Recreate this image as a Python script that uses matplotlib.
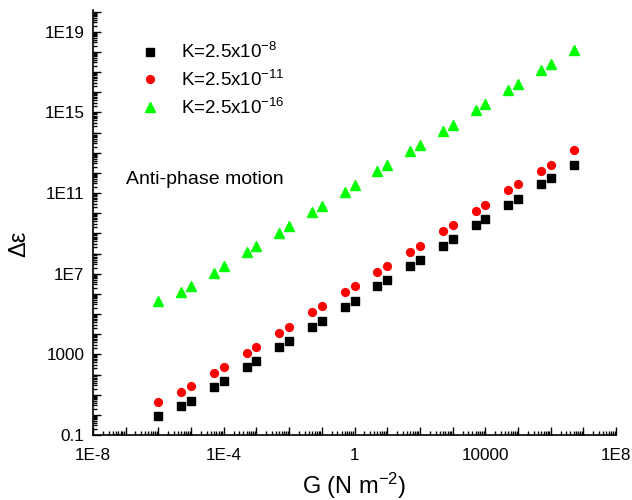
import numpy as np
import matplotlib
matplotlib.use("Agg")
import matplotlib.pyplot as plt
from matplotlib.ticker import FixedLocator, FuncFormatter, NullFormatter

plt.rcParams['font.family'] = ['Liberation Sans', 'DejaVu Sans']
plt.rcParams['mathtext.fontset'] = 'custom'
plt.rcParams['mathtext.rm'] = 'Liberation Sans'
plt.rcParams['mathtext.it'] = 'Liberation Sans:italic'

# G values (N m^-2)
G = [1e-6, 5e-6, 1e-5, 5e-5, 1e-4, 5e-4, 1e-3, 5e-3, 1e-2, 5e-2, 0.1, 0.5, 1,
     5, 10, 50, 100, 500, 1000, 5e3, 1e4, 5e4, 1e5, 5e5, 1e6, 5e6]

# delta epsilon
k8 = [0.9, 2.6, 5.0, 23, 46, 228, 450, 2300, 4750, 2.2e4, 4.7e4, 2.3e5, 4.5e5,
      2.4e6, 4.8e6, 2.4e7, 4.8e7, 2.4e8, 5.0e8, 2.6e9, 5.3e9, 2.6e10, 5.2e10,
      2.7e11, 5.5e11, 2.6e12]
k11 = [4.5, 13.5, 26, 118, 228, 1170, 2300, 1.15e4, 2.3e4, 1.2e5, 2.4e5, 1.23e6,
       2.4e6, 1.17e7, 2.4e7, 1.2e8, 2.4e8, 1.3e9, 2.7e9, 1.28e10, 2.6e10,
       1.35e11, 2.7e11, 1.3e12, 2.6e12, 1.4e13]
k16 = [4.4e5, 1.3e6, 2.4e6, 1.14e7, 2.3e7, 1.14e8, 2.3e8, 1.1e9, 2.3e9, 1.1e10,
       2.3e10, 1.15e11, 2.5e11, 1.2e12, 2.4e12, 1.2e13, 2.4e13, 1.2e14, 2.4e14,
       1.25e15, 2.6e15, 1.27e16, 2.5e16, 1.25e17, 2.5e17, 1.3e18]

labels = ['K=2.5x10$^{-8}$', 'K=2.5x10$^{-11}$', 'K=2.5x10$^{-16}$']

fig = plt.figure(figsize=(6.32, 5), dpi=100)
ax = fig.add_axes([0.147, 0.13, 0.828, 0.85])

ax.plot(G, k8, 's', color='black', ms=5.2, label=labels[0])
ax.plot(G, k11, 'o', color='red', ms=5.6, label=labels[1])
ax.plot(G, k16, '^', color='#00ff00', ms=7, label=labels[2])

ax.set_xscale('log')
ax.set_yscale('log')
ax.set_xlim(1e-8, 1e8)
ax.set_ylim(0.1, 1.2e20)


def fmt(v, pos):
    e = int(round(np.log10(v)))
    if e == 0:
        return '1'
    if e == -1:
        return '0.1'
    if e in (3, 4):
        return str(10 ** e)
    return '1E%d' % e


xmaj = [10.0 ** e for e in range(-8, 9)]
ymaj = [10.0 ** e for e in range(-1, 21)]
ax.xaxis.set_major_locator(FixedLocator(xmaj))
ax.yaxis.set_major_locator(FixedLocator(ymaj))
ax.xaxis.set_major_formatter(FuncFormatter(
    lambda v, p: fmt(v, p) if round(np.log10(v)) % 4 == 0 else ''))
ax.yaxis.set_major_formatter(FuncFormatter(
    lambda v, p: fmt(v, p) if (round(np.log10(v)) + 1) % 4 == 0 else ''))
ax.xaxis.set_minor_locator(FixedLocator(
    [m * 10.0 ** e for e in range(-8, 8) for m in range(2, 10)]))
ax.yaxis.set_minor_locator(FixedLocator(
    [m * 10.0 ** e for e in range(-1, 20) for m in range(2, 10)]))
ax.xaxis.set_minor_formatter(NullFormatter())
ax.yaxis.set_minor_formatter(NullFormatter())

ax.tick_params(which='both', direction='in', top=False, right=False,
               labelsize=12.3, width=1)
ax.tick_params(which='major', length=6)
ax.tick_params(which='minor', length=3)
ax.tick_params(axis='x', which='major', pad=9)
ax.tick_params(axis='y', which='major', pad=6)
ax.spines['top'].set_visible(False)
ax.spines['right'].set_visible(False)
for s in ('left', 'bottom'):
    ax.spines[s].set_linewidth(1.2)

ax.set_xlabel('G (N m$^{-2}$)', fontsize=17)
ax.set_ylabel('Δε', fontsize=17)
ax.xaxis.set_label_coords(0.5, -0.084)
ax.yaxis.set_label_coords(-0.12, 0.45)

ax.text(0.063, 0.6, 'Anti-phase motion', transform=ax.transAxes,
        fontsize=14, va='center')

ax.legend(loc='upper left', bbox_to_anchor=(0.059, 0.942), frameon=False,
          fontsize=13.5, handletextpad=0.65, labelspacing=0.41, borderpad=0.4,
          borderaxespad=0)

fig.savefig('out.png', dpi=100)
